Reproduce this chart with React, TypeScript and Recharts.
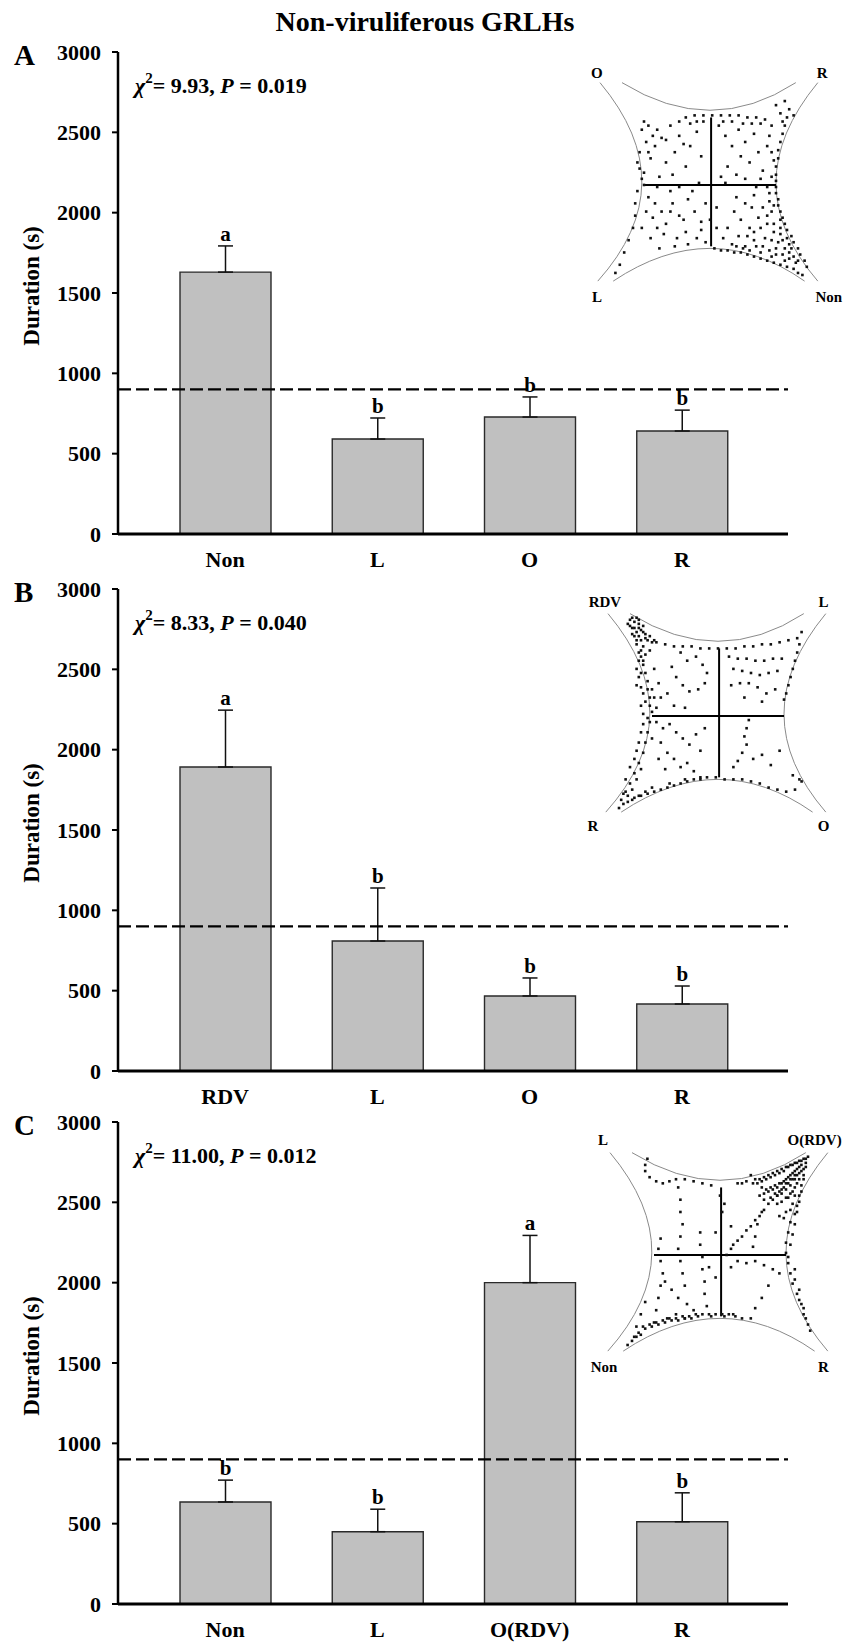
import { BarChart, Bar, XAxis, YAxis, ReferenceLine, ErrorBar, LabelList, ScatterChart, Scatter } from 'recharts'

const SERIF = '"Liberation Serif", "Times New Roman", Times, serif'

const yTicks = [0, 500, 1000, 1500, 2000, 2500, 3000]
const nullLevel = 900

// panel A
const catsA = ['Non', 'L', 'O', 'R']
const meansA = [1630, 591, 728, 641]
const seA = [163, 131, 125, 130]
const sigA = ['a', 'b', 'b', 'b']

// panel B
const catsB = ['RDV', 'L', 'O', 'R']
const meansB = [1892, 809, 467, 417]
const seB = [354, 330, 112, 112]
const sigB = ['a', 'b', 'b', 'b']

// panel C
const catsC = ['Non', 'L', 'O(RDV)', 'R']
const meansC = [635, 450, 2000, 512]
const seC = [136, 140, 294, 180]
const sigC = ['b', 'b', 'a', 'b']

const statsA = ['9.93', '0.019']
const statsB = ['8.33', '0.040']
const statsC = ['11.00', '0.012']

// inset tracks, arena grid 0..100 (y down)
const trackA: [number, number][] = [
  [39, 16], [43, 15], [47, 15], [51, 15], [55, 15], [59, 15], [63, 15], [67, 16], [71, 16], [75, 17],
  [80, 10], [84, 8], [86, 12], [82, 14], [88, 15],
  [84, 20], [83, 24], [82, 28], [81, 32], [81, 36], [80, 40], [80, 44], [80, 47], [80, 50], [80, 53],
  [81, 56], [81, 59], [82, 62], [83, 65], [84, 68], [85, 71], [87, 74], [88, 77], [90, 80], [91, 83], [93, 86], [94, 89],
  [62, 55], [66, 58], [70, 54], [74, 60], [77, 57], [72, 65], [76, 68], [68, 70], [64, 66], [79, 72], [83, 76],
  [75, 75], [70, 76], [66, 79], [80, 80], [86, 82], [89, 87], [84, 86], [78, 84], [73, 82], [61, 62], [58, 70],
  [56, 75], [60, 78], [78, 62], [76, 50], [73, 46], [69, 60], [82, 70], [86, 78],
  [52, 80], [55, 81], [58, 81], [61, 82], [64, 82], [67, 83], [70, 84], [73, 85], [76, 86], [79, 87], [82, 88],
  [85, 89], [88, 90], [90, 92], [92, 93],
  [88, 84], [90, 86], [86, 85], [83, 83], [80, 83], [77, 81], [74, 79], [71, 79], [68, 81], [65, 80], [62, 79],
  [87, 80], [84, 80], [81, 77], [78, 76], [82, 73], [85, 75], [79, 68], [76, 64], [73, 70], [70, 72], [67, 74],
  [63, 74], [82, 66], [79, 59], [77, 53], [78, 45], [79, 37], [78, 33], [77, 25], [85, 16], [83, 18],
  [73, 19], [69, 19], [65, 19], [60, 18], [56, 18], [47, 18], [44, 18], [41, 19], [36, 18],
  [20, 18], [19, 22], [22, 20], [24, 25], [21, 28], [25, 30], [18, 33], [17, 38], [18, 41], [20, 43], [23, 36],
  [28, 26], [32, 20], [36, 25], [34, 33], [30, 38], [38, 29], [41, 30], [44, 23], [46, 35], [39, 40], [33, 44], [27, 45],
  [30, 27], [26, 22], [22, 33], [19, 46], [20, 49], [26, 50], [36, 50], [45, 48],
  [54, 20], [57, 25], [60, 30], [63, 22], [66, 28], [70, 24], [72, 33], [68, 38], [64, 35], [58, 40], [62, 44],
  [74, 42], [76, 30], [78, 20], [55, 45], [57, 48], [66, 46], [71, 50],
  [22, 55], [25, 58], [28, 62], [30, 68], [24, 65], [33, 58], [36, 64], [40, 56], [43, 62], [46, 67], [39, 72],
  [35, 75], [29, 73], [44, 75], [48, 58], [42, 52], [32, 52], [53, 60], [50, 66], [53, 70], [46, 71], [38, 66],
  [32, 62], [26, 70], [21, 62], [23, 75], [19, 70], [27, 80], [34, 79], [40, 78], [48, 77],
  [17, 52], [16, 58], [16, 64], [15, 70], [13, 76], [11, 82], [9, 88], [7, 92],
]

const trackB: [number, number][] = [
  [10, 2], [12, 3], [14, 4], [11, 6], [13, 8], [15, 7], [17, 9], [12, 10], [15, 12], [18, 12], [20, 13], [16, 15],
  [13, 14], [19, 17], [9, 4], [16, 5],
  [11, 1], [13, 1], [14, 2], [10, 5], [12, 6], [14, 6], [16, 8], [11, 9], [14, 10], [17, 11], [19, 10], [21, 12],
  [13, 12], [15, 17], [17, 19], [14, 18],
  [15, 20], [16, 24], [17, 28], [18, 32], [18, 36], [19, 40], [19, 44], [20, 47], [14, 22], [14, 30], [16, 38],
  [21, 26], [23, 33], [24, 40], [16, 22], [13, 26], [15, 28], [13, 34], [15, 35], [17, 42], [15, 44], [16, 48],
  [20, 36], [22, 45], [21, 40],
  [22, 13], [26, 14], [30, 15], [34, 15], [38, 15], [42, 16], [46, 16], [50, 16], [54, 16], [58, 16], [62, 15],
  [66, 15], [70, 14], [74, 14], [78, 13], [82, 12], [86, 11], [88, 8],
  [87, 14], [86, 18], [85, 22], [84, 26], [83, 30], [82, 34], [81, 38], [80, 41],
  [33, 18], [36, 22], [40, 20], [43, 24], [45, 28], [44, 33], [41, 36], [37, 37], [34, 34], [31, 30], [29, 25],
  [27, 38], [30, 44], [35, 45],
  [55, 20], [59, 21], [63, 21], [67, 22], [71, 22], [75, 21], [79, 21], [57, 26], [61, 27], [65, 28], [69, 29],
  [73, 28], [77, 27], [56, 34], [60, 33], [64, 33], [68, 35], [72, 38], [76, 36], [70, 42], [62, 40],
  [22, 52], [25, 55], [28, 53], [31, 57], [34, 60], [37, 63], [40, 58], [42, 66], [24, 62], [27, 67], [30, 70],
  [33, 74], [36, 72], [39, 76], [42, 79], [26, 75], [23, 70], [20, 60], [44, 55],
  [19, 52], [18, 57], [17, 62], [16, 67], [14, 72], [12, 77], [10, 82], [8, 86], [6, 90], [5, 94],
  [18, 50], [16, 53], [15, 57], [14, 62], [13, 66], [12, 70], [10, 74], [15, 75], [13, 80], [11, 85], [9, 88],
  [7, 87], [8, 80],
  [9, 91], [12, 89], [15, 88], [18, 87], [21, 86], [24, 85], [27, 84], [30, 83], [33, 82], [36, 81], [39, 80], [42, 80],
  [7, 92], [11, 90], [14, 88], [17, 86], [20, 84], [28, 82], [35, 80], [45, 79], [49, 79],
  [64, 51], [63, 55], [62, 59], [63, 63], [61, 67], [59, 71], [57, 74], [66, 70], [70, 68], [74, 73], [78, 66],
  [84, 78], [87, 80], [88, 81],
  [53, 80], [57, 80], [61, 80], [65, 81], [69, 82], [73, 84], [77, 85], [81, 86], [85, 85],
]

const trackC: [number, number][] = [
  [90, 1], [88, 2], [86, 3], [84, 4], [82, 5], [80, 6], [78, 7], [76, 8], [74, 9], [72, 10], [70, 11], [68, 12],
  [66, 12], [87, 5], [85, 7], [83, 9], [81, 11], [79, 13], [77, 14], [75, 15], [73, 16], [71, 17], [69, 16],
  [89, 4], [86, 9], [84, 12], [82, 15], [80, 17], [78, 19], [76, 20], [88, 7], [85, 14], [83, 18], [81, 21],
  [89, 2], [87, 3], [85, 4], [83, 5], [81, 6], [79, 8], [77, 9], [75, 10], [73, 11], [71, 12], [69, 13], [67, 14],
  [65, 14], [86, 6], [84, 8], [82, 10], [80, 12], [78, 14], [76, 16], [74, 17], [72, 18], [70, 19], [68, 20],
  [87, 8], [85, 10], [83, 12], [81, 14], [79, 16], [77, 18], [75, 19], [73, 21], [86, 12], [84, 16], [82, 19],
  [80, 21], [78, 23], [76, 24], [84, 20], [83, 24], [82, 27], [80, 28], [79, 31], [77, 30],
  [64, 10], [62, 13], [60, 14], [58, 14],
  [88, 10], [87, 15], [86, 20], [85, 25], [84, 29], [82, 33], [81, 38], [80, 43], [80, 48], [81, 53], [82, 58],
  [83, 63], [85, 68], [87, 73], [88, 78], [90, 83],
  [89, 6], [88, 12], [87, 18], [86, 23], [85, 28], [84, 34], [83, 39], [82, 44], [81, 50], [84, 56], [84, 61],
  [86, 66], [86, 71], [88, 75], [89, 80], [91, 86],
  [82, 12], [78, 17], [74, 22], [70, 27], [66, 32], [62, 37], [58, 42], [55, 46], [53, 49],
  [84, 10], [80, 14], [76, 20], [72, 24], [68, 30], [64, 35], [60, 40], [56, 44],
  [70, 22], [69, 28], [67, 34], [66, 40], [65, 45],
  [17, 2], [16, 5], [16, 8], [18, 11], [21, 13], [24, 14], [27, 13],
  [30, 12], [34, 12], [38, 13], [42, 14], [46, 15],
  [23, 41], [22, 46], [23, 52], [24, 58], [23, 64], [22, 70], [21, 76], [20, 82],
  [31, 16], [32, 22], [32, 28], [33, 34], [32, 40], [31, 46], [32, 52], [33, 58], [34, 64],
  [41, 38], [41, 44], [42, 50], [42, 56], [43, 62], [43, 68], [44, 74],
  [50, 20], [52, 24], [51, 28], [55, 35], [48, 38], [45, 55], [48, 60], [55, 55], [58, 52], [62, 53], [66, 52],
  [70, 54], [74, 56], [77, 58], [72, 64], [69, 70], [66, 75], [64, 80],
  [25, 62], [28, 66], [31, 70], [35, 73], [38, 76], [26, 80], [30, 78], [34, 80], [16, 72], [14, 78], [12, 84],
  [15, 84], [18, 83], [21, 82], [24, 81], [27, 80], [30, 80], [33, 79], [36, 79], [39, 78], [42, 78], [45, 78],
  [48, 78], [51, 78], [54, 78], [57, 79], [19, 84], [25, 82], [31, 81], [37, 80],
  [16, 85], [22, 83], [28, 81], [34, 80], [40, 79], [46, 79], [52, 79], [56, 78], [60, 80], [13, 87], [11, 89],
  [10, 91], [12, 89], [14, 88], [8, 93],
]

// corner labels: text, grid x, grid y (baseline)
const cornersA: [string, number, number][] = [['O', -1.4, -3.4], ['R', 101, -3.4], ['L', -1.4, 106], ['Non', 104, 106]]
const cornersB: [string, number, number][] = [['RDV', -1.4, -4.4], ['L', 98, -4.4], ['R', -6.8, 105], ['O', 98, 105]]
const cornersC: [string, number, number][] = [['L', -3.2, -4.9], ['O(RDV)', 93, -4.9], ['Non', -2.7, 106], ['R', 97, 106]]

const W_IN = 286
const H_IN = 266
const PAD = 15
const SPAN = 130

// arena outline: start, mid, end (grid units)
const arcs: [number, number, number, number, number, number][] = [
  [0, -1, 19, 48, -1, 96],
  [10, -1, 50, 12.5, 89, -1],
  [99, -1, 80, 48, 99, 96],
  [6, 96, 50, 80, 93, 96],
]

function Inset({ left, top, track, corners }: { left: number; top: number; track: [number, number][]; corners: [string, number, number][] }) {
  const px = (v: number) => ((v + PAD) * W_IN) / SPAN
  const py = (v: number) => ((v + PAD) * H_IN) / SPAN
  const pts = track.map(([x, y]) => ({ x, y }))
  return (
    <div style={{ position: 'absolute', left: left - (PAD * W_IN) / SPAN, top: top - (PAD * H_IN) / SPAN, width: W_IN, height: H_IN }}>
      <svg width={W_IN} height={H_IN} style={{ position: 'absolute', left: 0, top: 0 }}>
        {arcs.map(([x0, y0, mx, my, x2, y2], i) => {
          const cx = 2 * mx - (x0 + x2) / 2
          const cy = 2 * my - (y0 + y2) / 2
          return (
            <path key={i} d={`M${px(x0)},${py(y0)} Q${px(cx)},${py(cy)} ${px(x2)},${py(y2)}`} fill="none" stroke="#8a8a8a" strokeWidth={1} />
          )
        })}
      </svg>
      <div style={{ position: 'absolute', left: 0, top: 0 }}>
        <ScatterChart width={W_IN} height={H_IN} margin={{ top: 0, right: 0, bottom: 0, left: 0 }}>
          <XAxis type="number" dataKey="x" domain={[-PAD, 100 + PAD]} hide />
          <YAxis type="number" dataKey="y" domain={[-PAD, 100 + PAD]} reversed hide />
          <ReferenceLine segment={[{ x: 20, y: 49 }, { x: 80, y: 49 }]} stroke="#000" strokeWidth={2} />
          <ReferenceLine segment={[{ x: 50.5, y: 16 }, { x: 50.5, y: 79 }]} stroke="#000" strokeWidth={2} />
          <Scatter
            data={pts}
            isAnimationActive={false}
            shape={(p: any) => <rect x={p.cx - 1.3} y={p.cy - 1.3} width={2.6} height={2.6} fill="#111" />}
          />
        </ScatterChart>
      </div>
      <svg width={W_IN} height={H_IN} style={{ position: 'absolute', left: 0, top: 0 }}>
        {corners.map(([t, x, y]) => (
          <text key={t} x={px(x)} y={py(y)} textAnchor="middle" fontFamily={SERIF} fontSize={15} fontWeight="bold" fill="#000">
            {t}
          </text>
        ))}
      </svg>
    </div>
  )
}

function Panel({
  top,
  letter,
  cats,
  means,
  se,
  sig,
  stats,
}: {
  top: number
  letter: string
  cats: string[]
  means: number[]
  se: number[]
  sig: string[]
  stats: string[]
}) {
  const data = cats.map((c, i) => ({ cat: c, mean: means[i], err: [0, se[i]], sig: sig[i] }))
  const tickFont = { fill: '#000', fontSize: 22, fontWeight: 'bold', fontFamily: SERIF }
  return (
    <div style={{ position: 'absolute', left: 0, top, width: 850, height: 574 }}>
      <BarChart width={850} height={574} data={data} margin={{ top: 52, right: 62, bottom: 0, left: 0 }}>
        <XAxis
          dataKey="cat"
          height={40}
          interval={0}
          tick={tickFont}
          tickLine={false}
          tickSize={0}
          tickMargin={17}
          padding={{ left: 31, right: 30 }}
          axisLine={{ stroke: '#000', strokeWidth: 3 }}
        />
        <YAxis
          width={118}
          domain={[0, 3000]}
          ticks={yTicks}
          interval={0}
          tick={tickFont}
          tickSize={6}
          tickMargin={11}
          tickLine={{ stroke: '#000', strokeWidth: 2 }}
          axisLine={{ stroke: '#000', strokeWidth: 2.5 }}
          label={() => (
            <text
              x={39}
              y={286}
              transform="rotate(-90 39 286)"
              textAnchor="middle"
              fontFamily={SERIF}
              fontSize={23}
              fontWeight="bold"
              fill="#000"
            >
              Duration (s)
            </text>
          )}
        />
        <Bar dataKey="mean" fill="#c0c0c0" stroke="#2a2a2a" strokeWidth={1.4} barSize={91} isAnimationActive={false}>
          <ErrorBar dataKey="err" width={7.5} stroke="#111" strokeWidth={1.5} isAnimationActive={false} />
          <LabelList
            dataKey="sig"
            content={(p: any) => {
              const i = p.index ?? 0
              const unit = p.height / means[i]
              const errTop = p.y - se[i] * unit
              return (
                <text x={p.x + p.width / 2} y={errTop - 5} textAnchor="middle" fontFamily={SERIF} fontSize={21} fontWeight="bold" fill="#000">
                  {p.value}
                </text>
              )
            }}
          />
        </Bar>
        <ReferenceLine y={nullLevel} stroke="#000" strokeWidth={2.2} strokeDasharray="13 5" />
      </BarChart>
      <svg width={850} height={574} style={{ position: 'absolute', left: 0, top: 0, pointerEvents: 'none' }}>
        <text x={14} y={65} fontFamily={SERIF} fontSize={29} fontWeight="bold" fill="#000">
          {letter}
        </text>
        <text x={135} y={93} fontFamily={SERIF} fontSize={22} fontWeight="bold" fill="#000">
          <tspan fontStyle="italic">χ</tspan>
          <tspan fontSize={15} dy={-10}>2</tspan>
          <tspan dy={10}>{`= ${stats[0]}, `}</tspan>
          <tspan fontStyle="italic">P</tspan>
          <tspan>{` = ${stats[1]}`}</tspan>
        </text>
      </svg>
    </div>
  )
}

export default function App() {
  return (
    <div style={{ position: 'relative', width: 850, height: 1644, background: '#fff', overflow: 'hidden' }}>
      <style>{'body{margin:0}'}</style>
      <svg width={850} height={50} style={{ position: 'absolute', left: 0, top: 0 }}>
        <text x={425} y={31} textAnchor="middle" fontFamily={SERIF} fontSize={28} fontWeight="bold" fill="#000">
          Non-viruliferous GRLHs
        </text>
      </svg>
      <Panel top={0} letter="A" cats={catsA} means={meansA} se={seA} sig={sigA} stats={statsA} />
      <Panel top={537} letter="B" cats={catsB} means={meansB} se={seB} sig={sigB} stats={statsB} />
      <Panel top={1070} letter="C" cats={catsC} means={meansC} se={seC} sig={sigC} stats={statsC} />
      <Inset left={600} top={85} track={trackA} corners={cornersA} />
      <Inset left={608} top={616} track={trackB} corners={cornersB} />
      <Inset left={610} top={1155} track={trackC} corners={cornersC} />
    </div>
  )
}
